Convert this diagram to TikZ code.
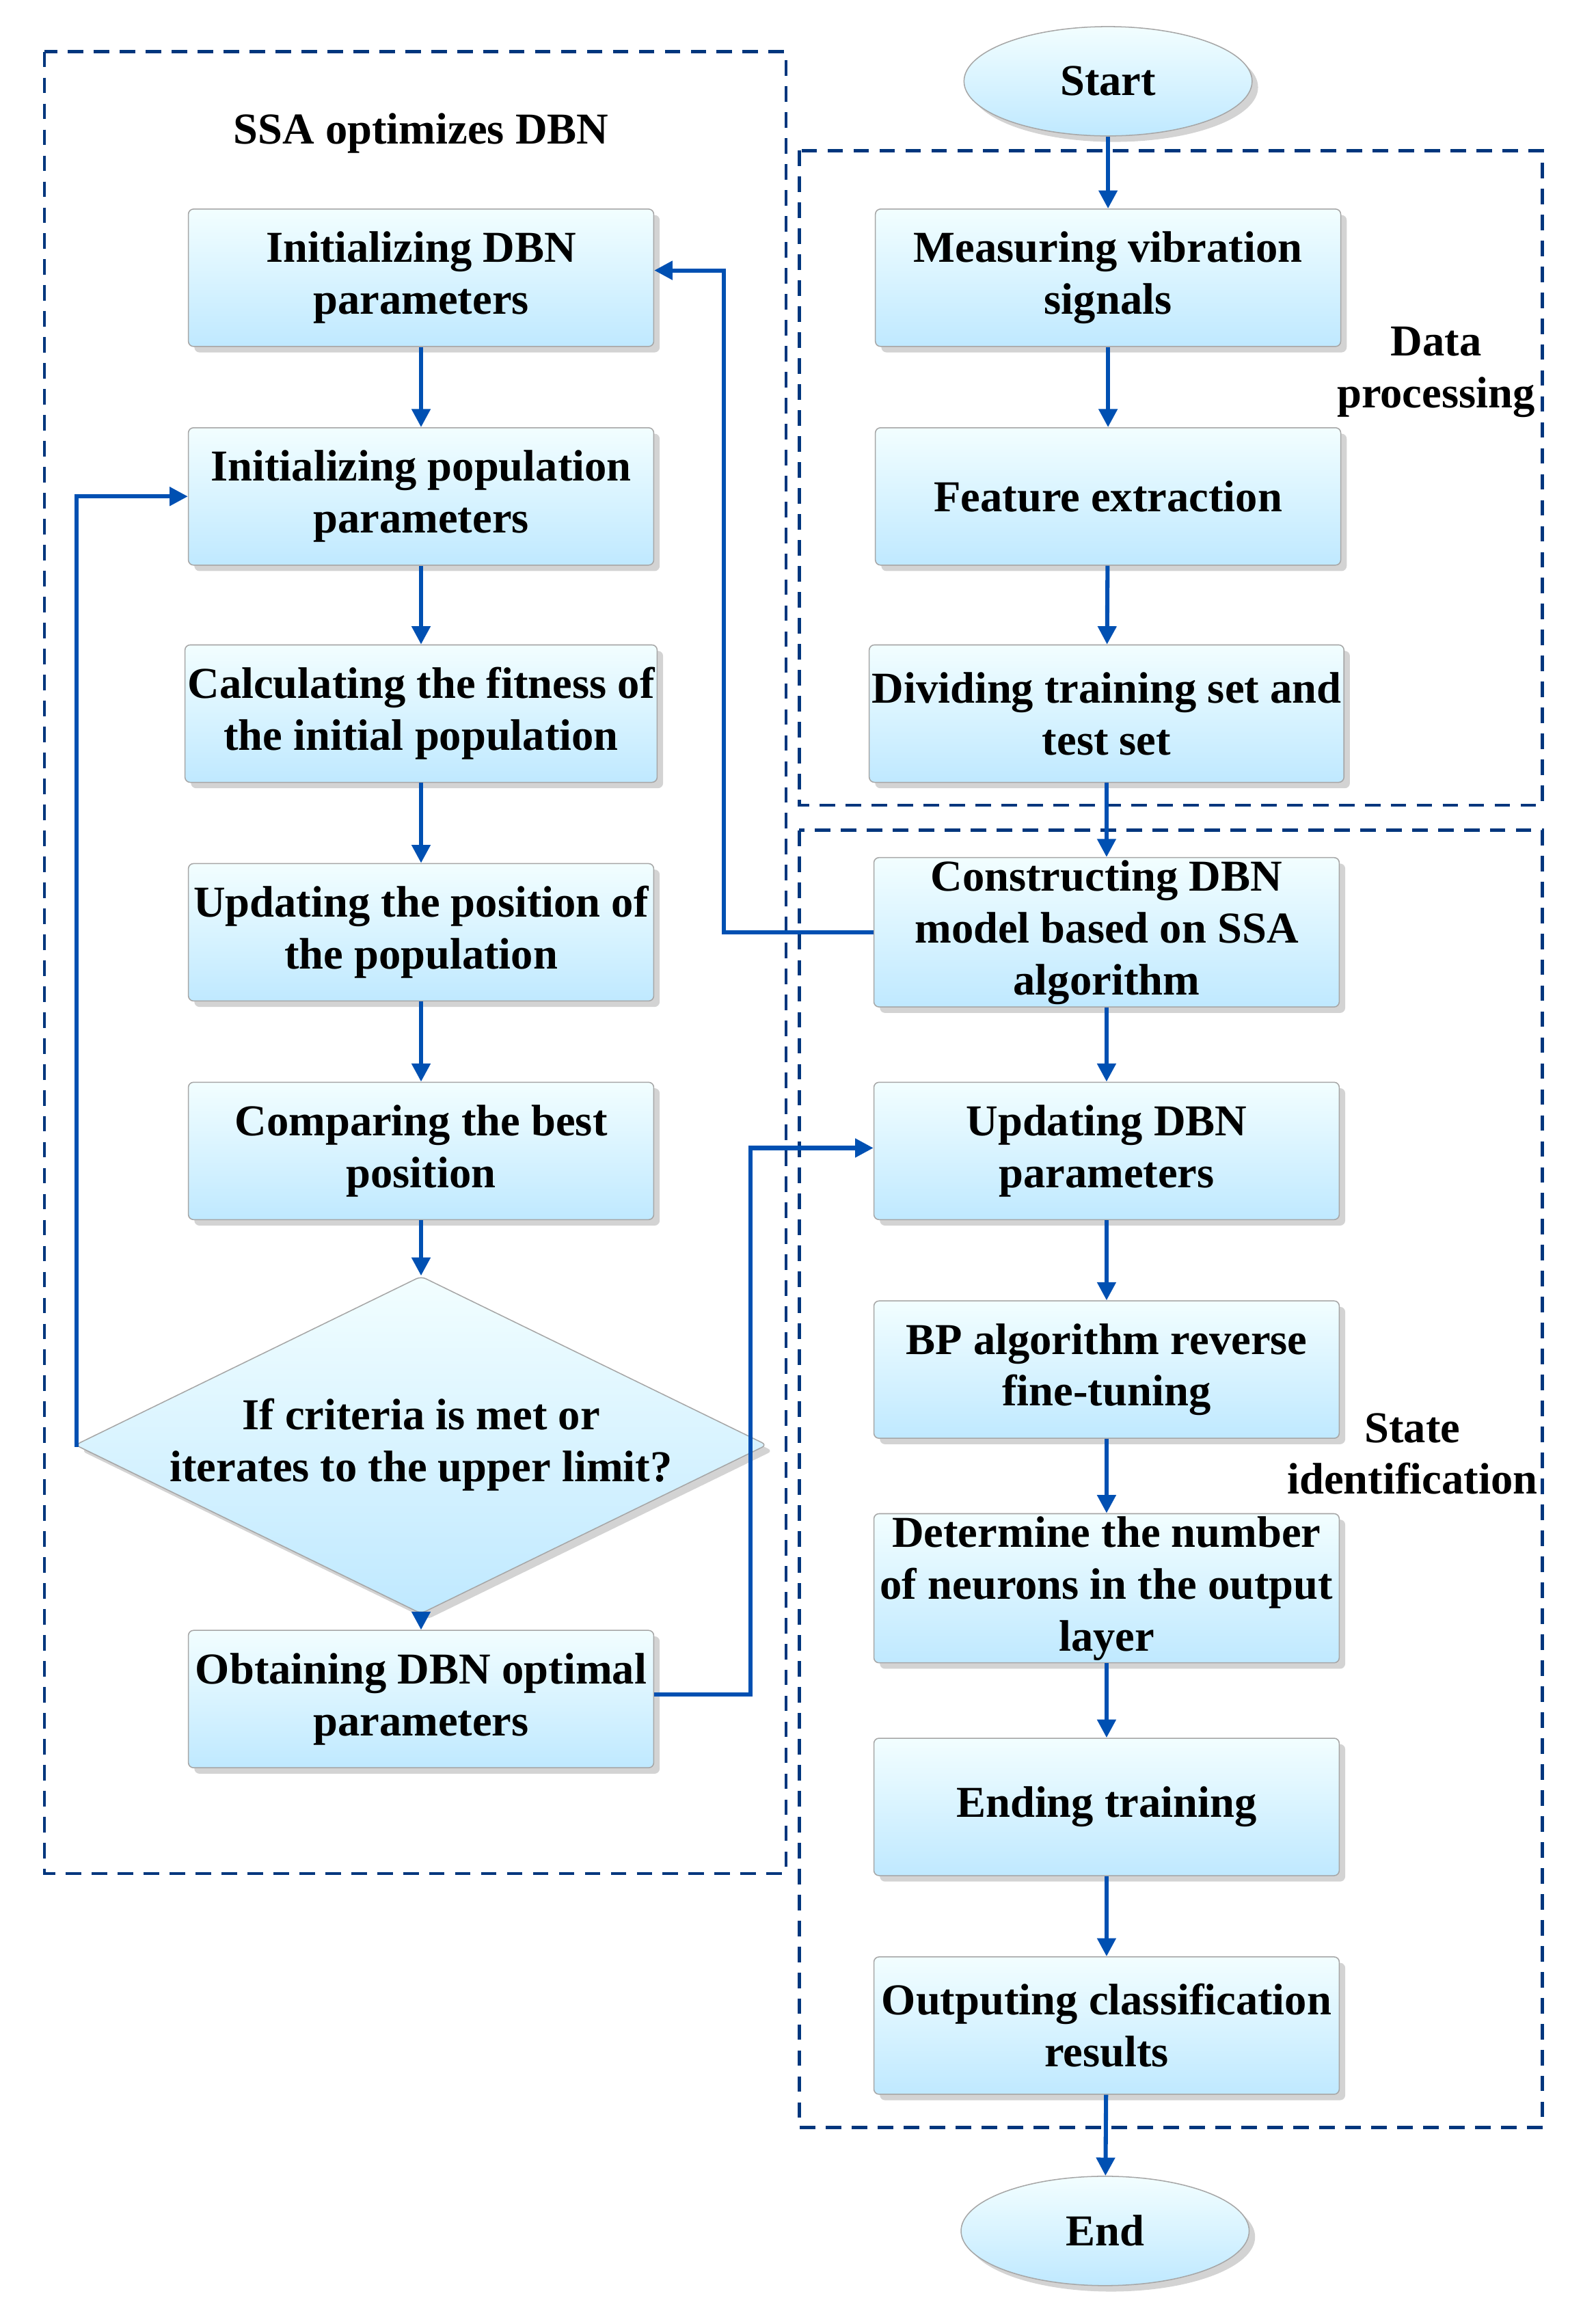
\documentclass[tikz,border=0pt]{standalone}
\usepackage{fontspec}
\setmainfont{Liberation Serif}
\usetikzlibrary{shapes.geometric,arrows.meta,shadows}
\begin{document}
\begin{tikzpicture}[x=0.02cm,y=-0.02cm,
  box/.style={draw=gray!70,rectangle,rounded corners=2pt,minimum width=315*0.02cm,minimum height=93*0.02cm,
    top color=blue!8!cyan!5!white,bottom color=blue!35!cyan!25!white,drop shadow={opacity=0.35},
    align=center,font=\bfseries\fontsize{17}{20}\selectfont,inner sep=1pt},
  term/.style={box,ellipse,minimum width=195*0.02cm,minimum height=74*0.02cm},
  arr/.style={draw=blue!55!cyan!70!black,line width=1.6pt,-{Triangle[length=7pt,width=7pt]}},
  dbox/.style={draw=teal!60!blue!70!black,line width=1.2pt,dash pattern=on 6pt off 4pt},
  lab/.style={font=\bfseries\fontsize{17}{20}\selectfont,align=center}]
\useasboundingbox (0,0) rectangle (1080,1573);
\draw[dbox] (30,35) rectangle (532,1268);
\draw[dbox] (541,102) rectangle (1044,545);
\draw[dbox] (541,562) rectangle (1044,1440);
\node[lab] (t1) at (285,90) {SSA optimizes DBN};
\node[lab] (t2) at (972,252) {Data\\processing};
\node[lab] (t3) at (956,984) {State\\identification};
% left
\node[box] (l1) at (285,188) {Initializing DBN\\parameters};
\node[box] (l2) at (285,336) {Initializing population\\parameters};
\node[box] (l3) at (285,483) {Calculating the fitness of\\the initial population};
\node[box] (l4) at (285,631) {Updating the position of\\the population};
\node[box] (l5) at (285,779) {Comparing the best\\position};
\node[box,diamond,aspect=2.05,minimum width=398*0.02cm,minimum height=193*0.02cm,inner sep=0pt] (d) at (285,978) {If criteria is met or\\iterates to the upper limit?};
\node[box] (l7) at (285,1150) {Obtaining DBN optimal\\parameters};
% right
\node[term] (s) at (750,55) {Start};
\node[box] (r1) at (750,188) {Measuring vibration\\signals};
\node[box] (r2) at (750,336) {Feature extraction};
\node[box] (r3) at (749,483) {Dividing training set and\\test set};
\node[box] (r4) at (749,631) {Constructing DBN\\model based on SSA\\algorithm};
\node[box] (r5) at (749,779) {Updating DBN\\parameters};
\node[box] (r6) at (749,927) {BP algorithm reverse\\fine-tuning};
\node[box] (r7) at (749,1075) {Determine the number\\of neurons in the output\\layer};
\node[box] (r8) at (749,1223) {Ending training};
\node[box] (r9) at (749,1371) {Outputing classification\\results};
\node[term] (e) at (748,1510) {End};
\foreach \a/\b in {l1/l2,l2/l3,l3/l4,l4/l5,l5/d,d/l7,s/r1,r1/r2,r2/r3,r3/r4,r4/r5,r5/r6,r6/r7,r7/r8,r8/r9,r9/e}
  \draw[arr] (\a) -- (\b);
\draw[arr] (r4.west) -| (490,183) -- (l1.east|-0,183);
\draw[arr] (d.west) -- (52,978) -- (52,336) -- (l2.west);
\draw[arr] (l7.east|-0,1147) -- (508,1147) -- (508,777) -- (r5.west|-0,777);
\end{tikzpicture}
\end{document}
